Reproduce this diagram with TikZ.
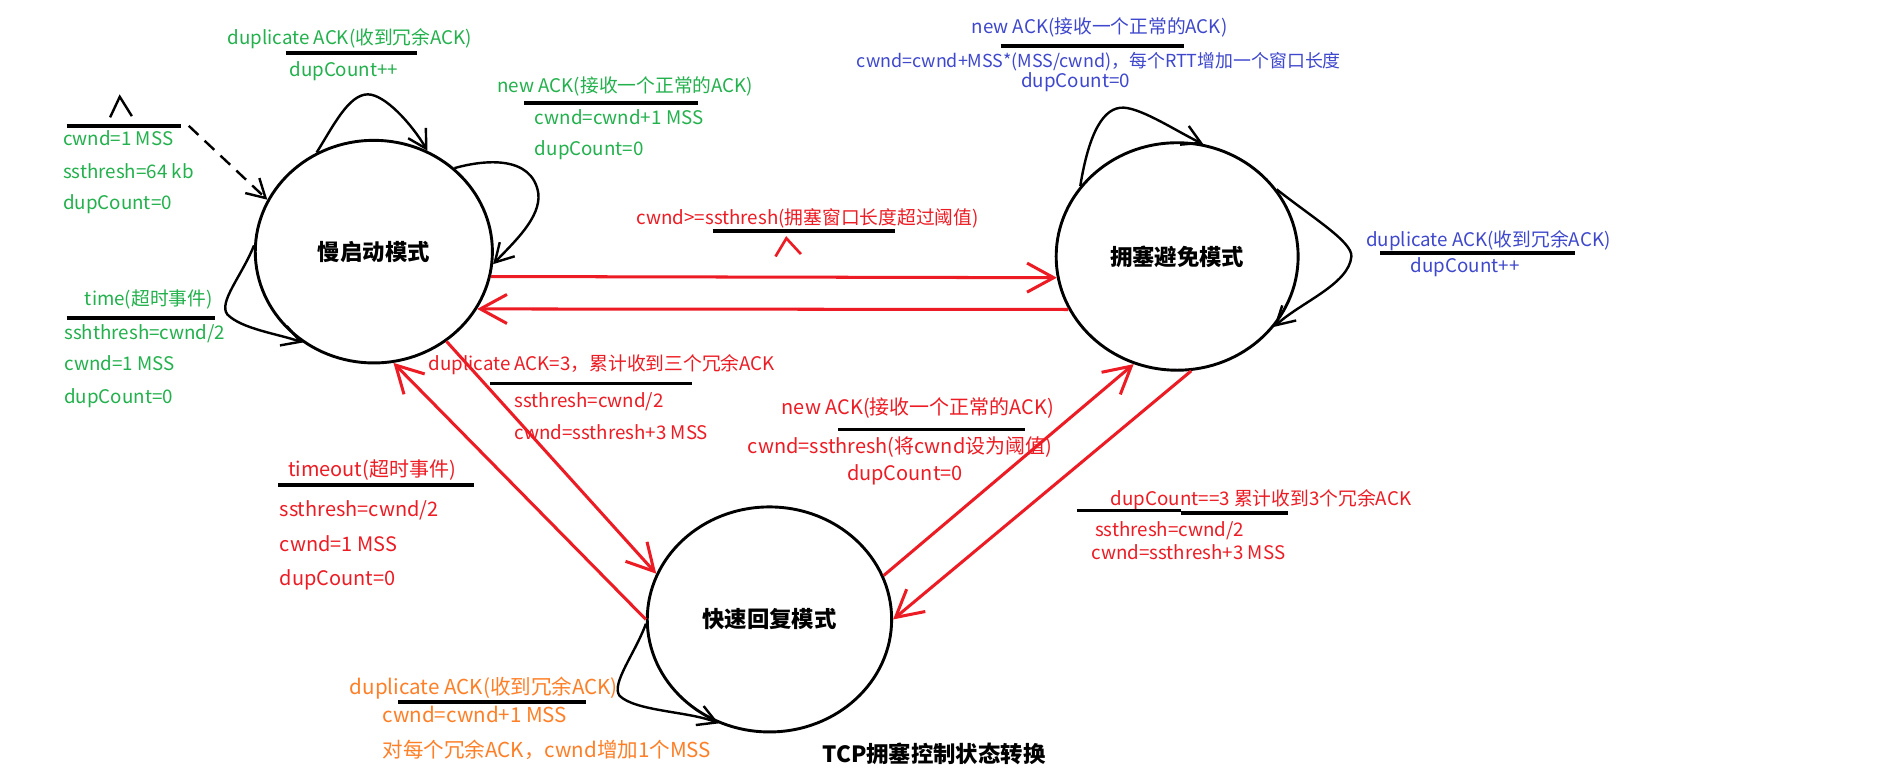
\documentclass[tikz,border=0pt]{standalone}
\usepackage{fontspec}
\setmainfont{Noto Sans CJK SC}
\usetikzlibrary{arrows.meta,shapes.geometric}
\definecolor{pgreen}{RGB}{34,177,76}
\definecolor{pred}{RGB}{237,28,36}
\definecolor{pblue}{RGB}{63,72,204}
\definecolor{porange}{RGB}{255,127,39}
\begin{document}
\begin{tikzpicture}[x=1pt,y=-1pt,
  lab/.style={anchor=west,inner sep=0pt,font=\fontsize{15.5}{16}\selectfont,text height=11.5pt,text depth=0.5pt},
  labr/.style={anchor=west,inner sep=0pt,font=\fontsize{16.5}{17}\selectfont,text height=12.3pt,text depth=0.5pt},
  labo/.style={anchor=west,inner sep=0pt,font=\fontsize{17}{18}\selectfont,text height=12.6pt,text depth=0.5pt},
  stnode/.style={draw=black,line width=2.4pt,ellipse,inner sep=0pt,font=\bfseries\fontsize{18.5}{19}\selectfont},
  ubar/.style={line width=3pt,black},
  selfarc/.style={line width=2pt,black,-{Straight Barb[length=15pt,width=17pt]}},
  redarr/.style={line width=2.5pt,pred,-{Straight Barb[length=22pt,width=24pt]}},
]
\fill[white] (0,0) rectangle (1568,639);
\useasboundingbox (0,0) rectangle (1568,639);

% states
\node[stnode,minimum width=196pt,minimum height=184pt] (A) at (309,208) {慢启动模式};
\node[stnode,minimum width=200pt,minimum height=188pt] (B) at (973,212) {拥塞避免模式};
\node[stnode,minimum width=202pt,minimum height=186pt] (C) at (636,512) {快速回复模式};
\node[inner sep=0pt,font=\bfseries\fontsize{18.5}{19}\selectfont] (title) at (772,623) {TCP拥塞控制状态转换};

% initial
\coordinate (init) at (156,104);
\draw[selfarc,dash pattern=on 11pt off 7pt] (init) -- (A.154);
\draw[line width=2pt] (91,97) -- (99,80) -- (109,96);
\draw[ubar] (55,104) -- (150,104);
\node[lab,pgreen] (g6) at (52,115) {cwnd=1 MSS};
\node[lab,pgreen] (g7) at (52,142) {ssthresh=64 kb};
\node[lab,pgreen] (g8) at (52,168) {dupCount=0};

% self loops A
\draw[selfarc] (A.120) .. controls (275,105) and (288,78) .. (304,78) .. controls (318,78) and (340,102) .. (A.62);
\draw[selfarc] (A.46) .. controls (400,132) and (440,128) .. (445,160) .. controls (447,180) and (425,200) .. (A.-6);
\draw[selfarc] (A.177) .. controls (200,228) and (180,250) .. (188,260) .. controls (200,272) and (230,276) .. (A.232);

\node[lab,pgreen] (g1) at (188,31) {duplicate ACK(收到冗余ACK)};
\draw[ubar] (236,44) -- (345,44);
\node[lab,pgreen] (g2) at (239,58) {dupCount++};

\node[lab,pgreen] (g3) at (411,71) {new ACK(接收一个正常的ACK)};
\draw[ubar] (433,85) -- (577,85);
\node[lab,pgreen] (g4) at (442,97) {cwnd=cwnd+1 MSS};
\node[lab,pgreen] (g5) at (442,123) {dupCount=0};

\node[lab,pgreen] (g9) at (70,247) {time(超时事件)};
\draw[ubar] (55,263) -- (178,263);
\node[lab,pgreen] (g10) at (53,275) {sshthresh=cwnd/2};
\node[lab,pgreen] (g11) at (53,301) {cwnd=1 MSS};
\node[lab,pgreen] (g12) at (53,328) {dupCount=0};

% self loops B
\draw[selfarc] (B.144) .. controls (900,110) and (912,88) .. (929,89) .. controls (945,90) and (975,110) .. (B.77);
\draw[selfarc] (B.34) .. controls (1085,180) and (1118,200) .. (1117,212) .. controls (1115,235) and (1075,250) .. (B.-36);

\node[lab,pblue] (b1) at (803,22) {new ACK(接收一个正常的ACK)};
\draw[ubar] (827,38) -- (979,38);
\node[lab,pblue,font=\fontsize{14.8}{15}\selectfont] (b2) at (708,50) {cwnd=cwnd+MSS*(MSS/cwnd)，每个RTT增加一个窗口长度};
\node[lab,pblue] (b3) at (844,67) {dupCount=0};
\node[lab,pblue] (b4) at (1129,198) {duplicate ACK(收到冗余ACK)};
\draw[ubar] (1141,209) -- (1302,209);
\node[lab,pblue] (b5) at (1166,220) {dupCount++};

% self loop C
\draw[selfarc] (C.182) .. controls (525,540) and (505,565) .. (512,575) .. controls (525,588) and (570,588) .. (C.244);
\node[labo,porange] (o1) at (289,568) {duplicate ACK(收到冗余ACK)};
\draw[ubar] (329,580) -- (484,580);
\node[labo,porange] (o2) at (316,591) {cwnd=cwnd+1 MSS};
\node[labo,porange] (o3) at (316,620) {对每个冗余ACK，cwnd增加1个MSS};

% red transitions
\draw[redarr] (A.-12) -- (B.190);
\draw[redarr] (B.206) -- (A.-29);
\draw[redarr] (A.-51) -- (C.158);
\draw[redarr] (C.180) -- (A.-80);
\draw[redarr] (C.21) -- (B.248);
\draw[redarr] (B.-83) -- (C.0);

\node[lab,pred] (r1) at (526,180) {cwnd>=ssthresh(拥塞窗口长度超过阈值)};
\draw[ubar] (589,191) -- (740,191);
\draw[line width=2.2pt,pred] (641,212) -- (650,197) -- (662,210);

\node[lab,pred] (r2) at (354,301) {duplicate ACK=3，累计收到三个冗余ACK};
\draw[ubar] (405,317) -- (572,317);
\node[lab,pred] (r3) at (425,331) {ssthresh=cwnd/2};
\node[lab,pred] (r4) at (425,358) {cwnd=ssthresh+3 MSS};

\node[labr,pred] (r5) at (238,388) {timeout(超时事件)};
\draw[ubar] (230,401) -- (392,401);
\node[labr,pred] (r6) at (231,421) {ssthresh=cwnd/2};
\node[labr,pred] (r7) at (231,450) {cwnd=1 MSS};
\node[labr,pred] (r8) at (231,478) {dupCount=0};

\node[labr,pred] (r9) at (646,337) {new ACK(接收一个正常的ACK)};
\draw[ubar] (693,355) -- (847,355);
\node[labr,pred] (r10) at (618,369) {cwnd=ssthresh(将cwnd设为阈值)};
\node[labr,pred] (r11) at (700,391) {dupCount=0};

\node[lab,pred] (r12) at (918,412) {dupCount==3 累计收到3个冗余ACK};
\draw[ubar] (890,422) -- (976,422);
\draw[ubar] (976,424) -- (1065,424);
\node[lab,pred] (r13) at (905,438) {ssthresh=cwnd/2};
\node[lab,pred] (r14) at (902,457) {cwnd=ssthresh+3 MSS};
\end{tikzpicture}
\end{document}
